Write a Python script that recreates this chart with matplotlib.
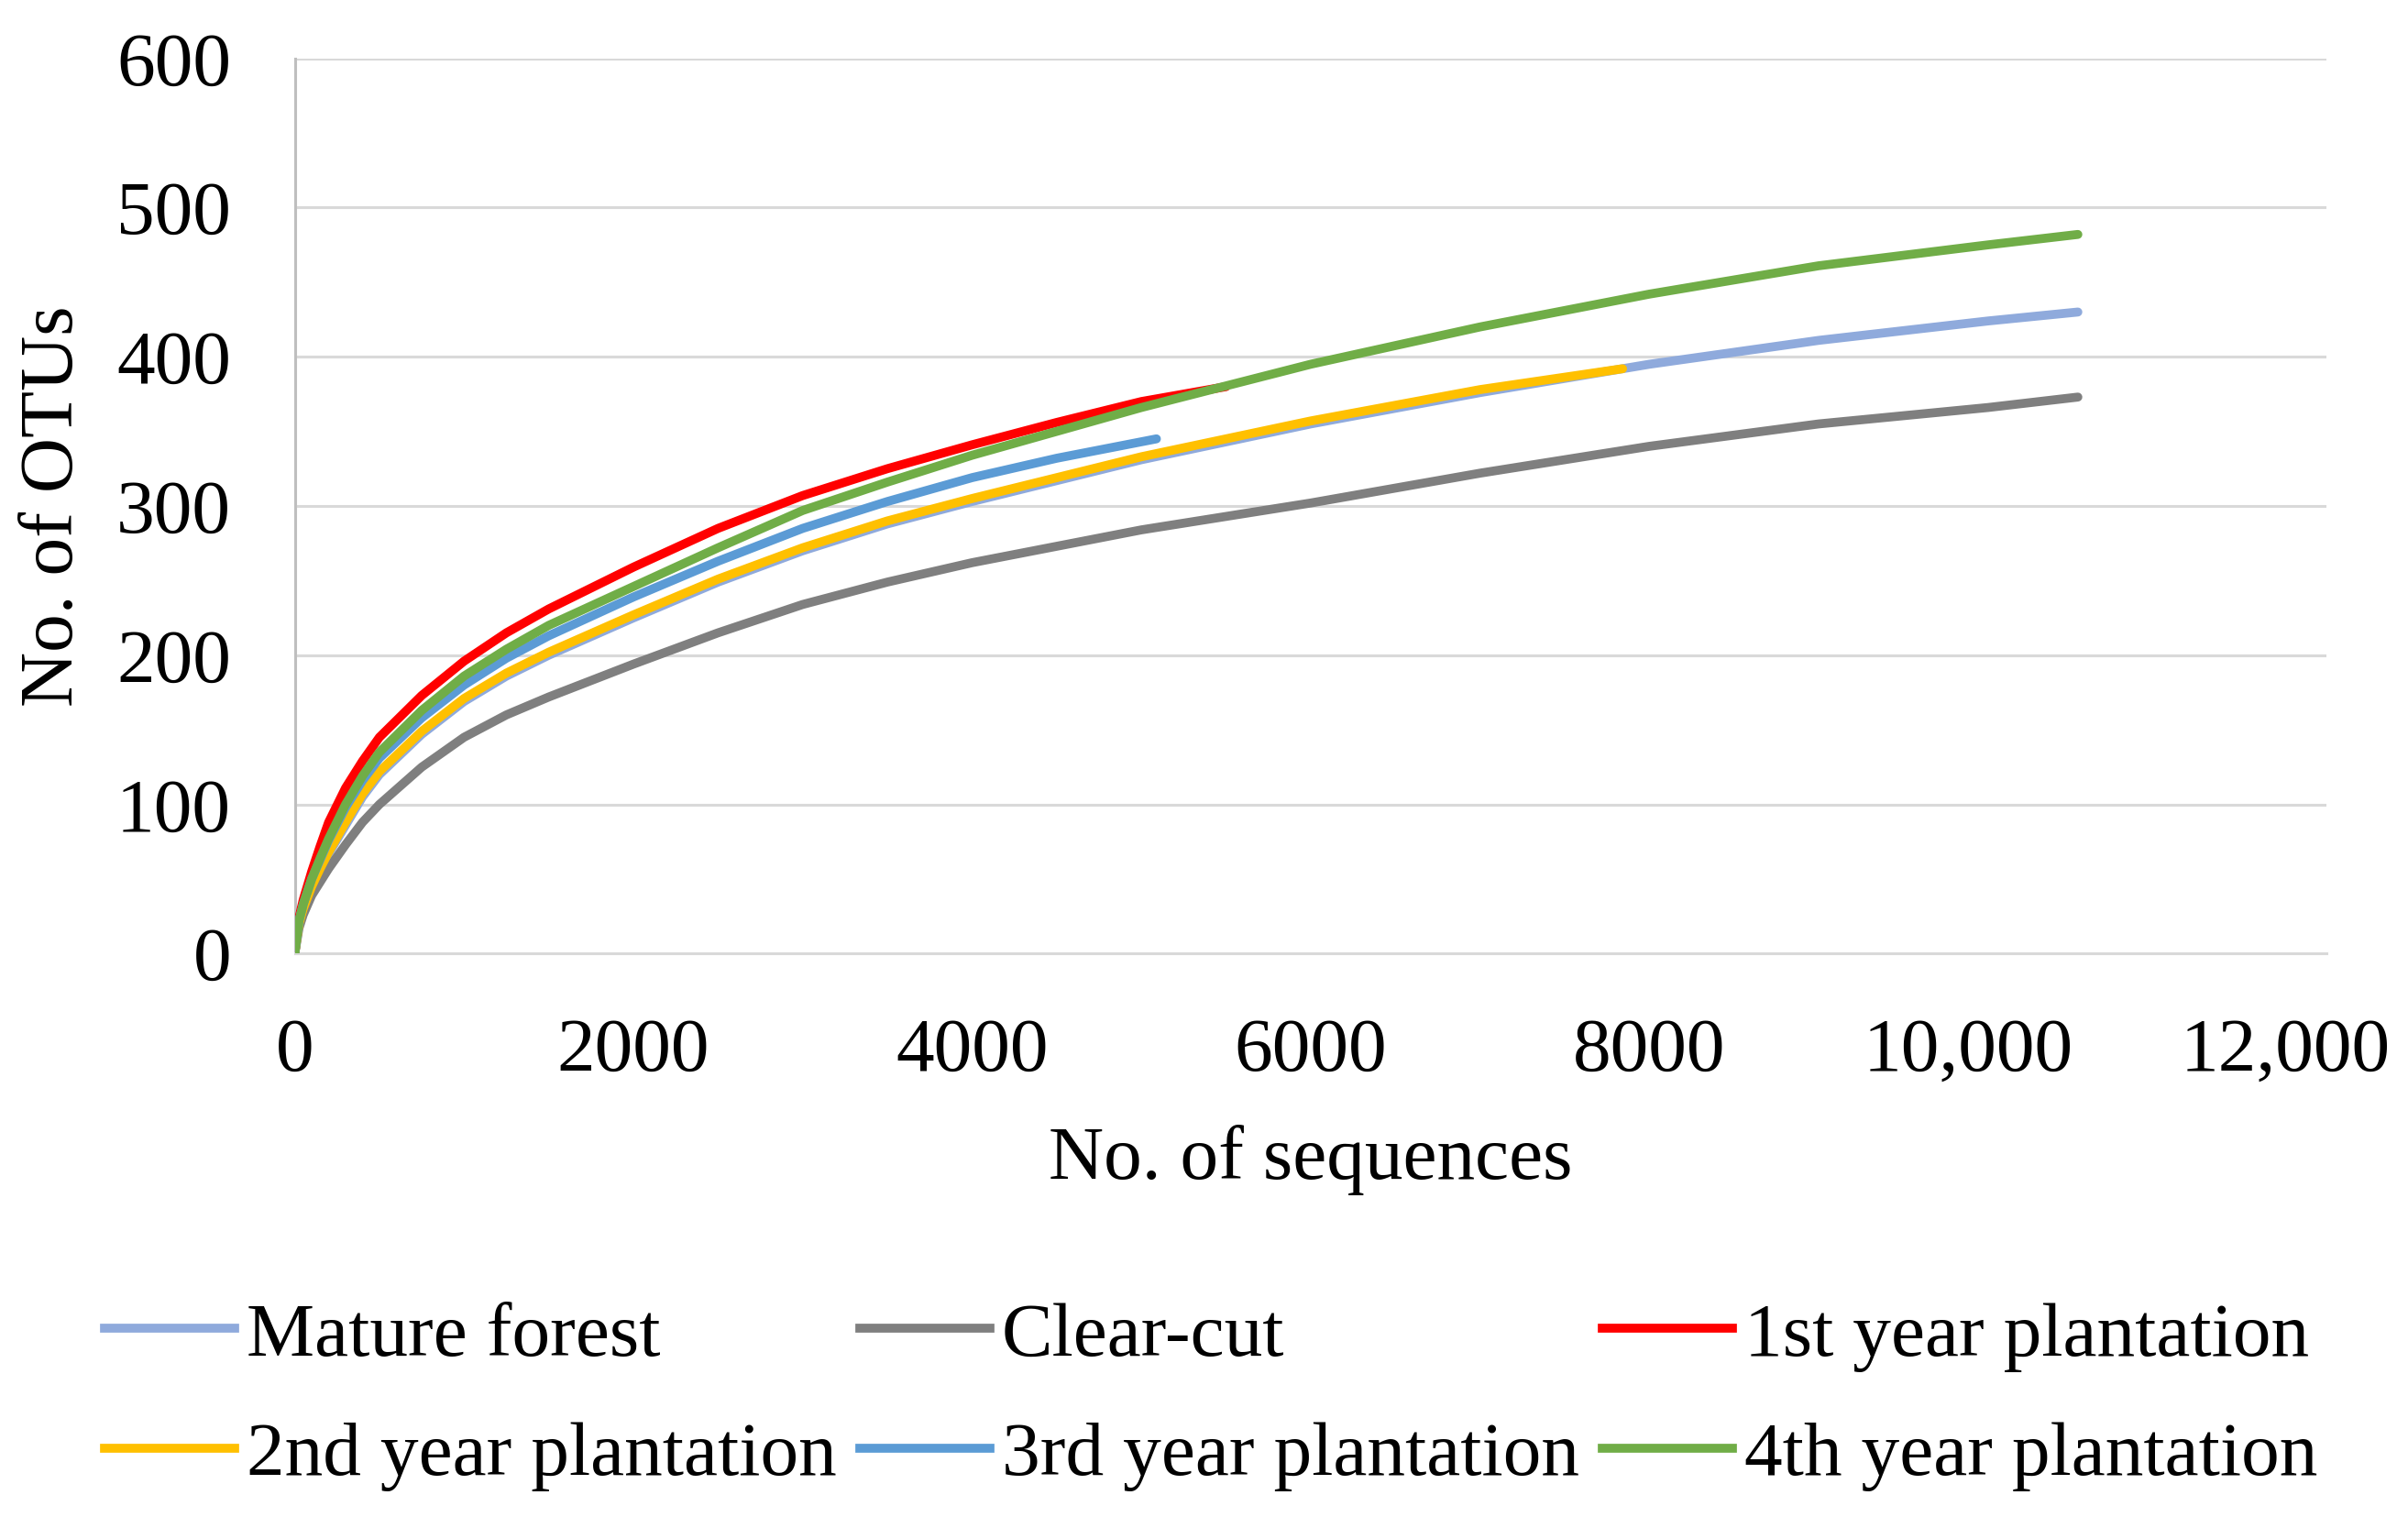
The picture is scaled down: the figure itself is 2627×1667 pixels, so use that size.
import matplotlib.pyplot as plt
from matplotlib.lines import Line2D
import matplotlib.transforms as mtransforms

# rarefaction curves, values
seq_long = [0, 25, 50, 100, 150, 200, 300, 400, 500, 750, 1000, 1250, 1500, 2000,
            2500, 3000, 3500, 4000, 5000, 6000, 7000, 8000, 9000, 10000, 10531]
mature_forest = [0, 20, 29, 44, 56, 67, 86, 105, 120, 147, 169, 186, 200, 225,
                 249, 270, 288, 303, 331, 355, 376, 395, 411, 424, 430]
clear_cut = [0, 17, 26, 39, 48, 57, 73, 88, 100, 125, 145, 160, 172, 194,
             215, 234, 249, 262, 284, 302, 322, 340, 355, 366, 373]
year4 = [0, 22, 33, 50, 64, 77, 100, 119, 135, 163, 186, 204, 220, 246,
         272, 297, 316, 334, 366, 395, 420, 442, 461, 475, 482]

seq_year1 = [0, 25, 50, 100, 150, 200, 300, 400, 500, 750, 1000, 1250, 1500, 2000,
             2500, 3000, 3500, 4000, 4500, 5000, 5500]
year1 = [0, 24, 36, 55, 72, 88, 111, 129, 145, 173, 196, 215, 231, 259,
         285, 307, 325, 341, 356, 370, 380]

seq_year2 = [0, 25, 50, 100, 150, 200, 300, 400, 500, 750, 1000, 1250, 1500, 2000,
             2500, 3000, 3500, 4000, 5000, 6000, 7000, 7842]
year2 = [0, 20, 30, 45, 57, 68, 88, 107, 122, 149, 171, 188, 202, 227,
         251, 272, 290, 305, 333, 357, 378, 392]

seq_year3 = [0, 25, 50, 100, 150, 200, 300, 400, 500, 750, 1000, 1250, 1500, 2000,
             2500, 3000, 3500, 4000, 4500, 5089]
year3 = [0, 22, 33, 50, 63, 76, 98, 116, 131, 158, 180, 198, 213, 239,
         263, 285, 303, 319, 332, 345]

labels = ['Mature forest', 'Clear-cut', '1st year plantation',
          '2nd year plantation', '3rd year plantation', '4th year plantation']
colors = ['#8faadc', '#7f7f7f', '#ff0000', '#ffc000', '#5b9bd5', '#70ad47']

xticks = [0, 2000, 4000, 6000, 8000, 10000, 12000]
xticklabels = ['0', '2000', '4000', '6000', '8000', '10,000', '12,000']
yticks = [0, 100, 200, 300, 400, 500, 600]

plt.rcParams['font.family'] = ['Liberation Serif', 'DejaVu Serif']

fig = plt.figure(figsize=(26.27, 16.67), dpi=100)
ax = fig.add_axes([0.1224, 0.3759, 0.8438, 0.5859])

series = [(seq_long, mature_forest), (seq_long, clear_cut), (seq_year1, year1),
          (seq_year2, year2), (seq_year3, year3), (seq_long, year4)]
for (xs, ys), lab, c in zip(series, labels, colors):
    ax.plot(xs, ys, color=c, lw=7, label=lab, solid_capstyle='round',
            solid_joinstyle='round', zorder=3)

ax.set_xlim(0, 12000)
ax.set_ylim(0, 600)
ax.set_xticks(xticks)
ax.set_xticklabels(xticklabels)
ax.set_yticks(yticks)
ax.grid(axis='y', color='#d9d9d9', lw=2.2, zorder=0)
ax.tick_params(length=0, labelsize=60, colors='black')
ax.tick_params(axis='y', pad=50)
ax.tick_params(axis='x', pad=50)

for s in ['top', 'right']:
    ax.spines[s].set_visible(False)
ax.spines['left'].set_color('#bfbfbf')
ax.spines['left'].set_linewidth(2.2)
ax.spines['bottom'].set_color('#d9d9d9')
ax.spines['bottom'].set_linewidth(2.2)

# excel nudges the last labels so they stay inside the chart
xt = ax.get_xticklabels()
xt[-1].set_transform(xt[-1].get_transform() +
                     mtransforms.ScaledTranslation(-0.45, 0, fig.dpi_scale_trans))
xt[-2].set_transform(xt[-2].get_transform() +
                     mtransforms.ScaledTranslation(-0.22, 0, fig.dpi_scale_trans))

ax.set_xlabel('No. of sequences', fontsize=60, labelpad=30)
ax.set_ylabel('No. of OTUs', fontsize=60, labelpad=22)

# legend in row order: matplotlib fills columns first
handles = [Line2D([], [], color=c, lw=7) for c in colors]
order = [0, 3, 1, 4, 2, 5]
fig.legend([handles[i] for i in order], [labels[i] for i in order], ncol=3,
           loc='center', bbox_to_anchor=(0.503, 0.086), frameon=False,
           fontsize=60, handlelength=1.7, handletextpad=0.16,
           columnspacing=0.3, labelspacing=0.65)

fig.savefig('out.png', dpi=100, facecolor='white')
